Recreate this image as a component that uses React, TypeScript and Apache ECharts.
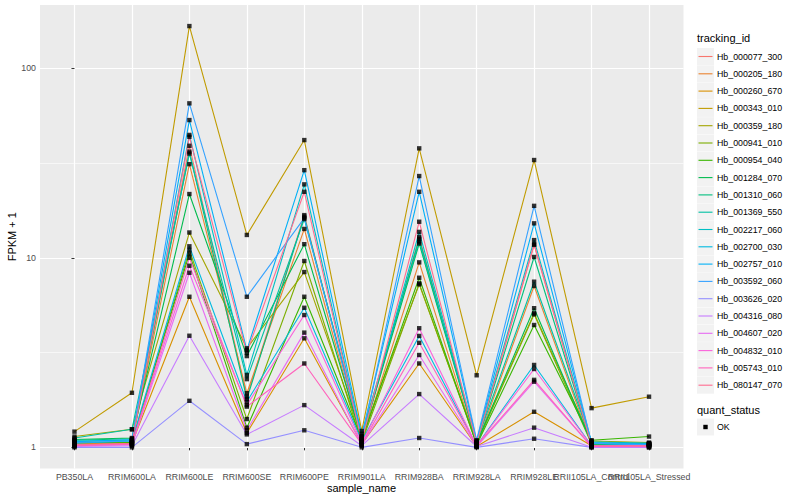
import { useEffect, useRef } from "react";
import * as echarts from "echarts";

const categories = [
  "PB350LA", "RRIM600LA", "RRIM600LE", "RRIM600SE", "RRIM600PE", "RRIM901LA",
  "RRIM928BA", "RRIM928LA", "RRIM928LE", "RRII105LA_Control", "RRII105LA_Stressed",
];

const trackingIds = [
  "Hb_000077_300", "Hb_000205_180", "Hb_000260_670", "Hb_000343_010", "Hb_000359_180",
  "Hb_000941_010", "Hb_000954_040", "Hb_001284_070", "Hb_001310_060", "Hb_001369_550",
  "Hb_002217_060", "Hb_002700_030", "Hb_002757_010", "Hb_003592_060", "Hb_003626_020",
  "Hb_004316_080", "Hb_004607_020", "Hb_004832_010", "Hb_005743_010", "Hb_080147_070",
];

const colors = [
  "#F8766D", "#EA8331", "#D89000", "#C09B00", "#A3A500", "#7CAE00", "#39B600", "#00BB4E",
  "#00BF7D", "#00C1A3", "#00BFC4", "#00BAE0", "#00B0F6", "#35A2FF", "#9590FF", "#C77CFF",
  "#E76BF3", "#FA62DB", "#FF62BC", "#FF6C91",
];

// FPKM + 1 values, one array per tracking id (order of categories)
const hb_000077_300 = [1.04, 1.06, 39.0, 1.85, 16.8, 1.09, 12.9, 1.04, 11.7, 1.03, 1.02];
const hb_000205_180 = [1.05, 1.07, 31.2, 1.93, 14.2, 1.07, 9.46, 1.03, 7.1, 1.03, 1.03];
const hb_000260_670 = [1.04, 1.05, 6.23, 1.19, 3.76, 1.04, 2.77, 1.01, 1.54, 1.02, 1.05];
const hb_000343_010 = [1.21, 1.94, 167, 13.2, 41.8, 1.22, 37.8, 2.4, 32.8, 1.61, 1.85];
const hb_000359_180 = [1.14, 1.245, 13.6, 3.33, 8.41, 1.14, 7.24, 1.06, 5.1, 1.08, 1.06];
const hb_000941_010 = [1.06, 1.05, 11.0, 1.41, 9.62, 1.06, 7.33, 1.04, 5.03, 1.04, 1.04];
const hb_000954_040 = [1.07, 1.06, 10.5, 1.27, 6.23, 1.1, 7.85, 1.03, 4.42, 1.09, 1.14];
const hb_001284_070 = [1.1, 1.12, 21.7, 3.03, 11.8, 1.11, 11.9, 1.05, 5.42, 1.05, 1.04];
const hb_001310_060 = [1.09, 1.11, 36.3, 1.8, 16.5, 1.13, 12.6, 1.06, 10.1, 1.04, 1.03];
const hb_001369_550 = [1.12, 1.245, 35.5, 2.29, 16.0, 1.18, 12.2, 1.07, 7.48, 1.07, 1.05];
const hb_002217_060 = [1.08, 1.09, 44.5, 2.41, 24.4, 1.1, 13.7, 1.07, 12.4, 1.05, 1.05];
const hb_002700_030 = [1.05, 1.08, 11.5, 1.74, 5.45, 1.08, 3.87, 1.02, 2.72, 1.02, 1.04];
const hb_002757_010 = [1.07, 1.1, 53.3, 3.26, 29.0, 1.15, 22.3, 1.08, 15.2, 1.06, 1.04];
const hb_003592_060 = [1.06, 1.08, 65.3, 6.23, 16.2, 1.12, 27.0, 1.09, 18.8, 1.05, 1.03];
const hb_003626_020 = [1.0, 1.0, 1.76, 1.04, 1.23, 1.0, 1.12, 1.0, 1.11, 1.0, 1.0];
const hb_004316_080 = [1.01, 1.02, 3.88, 1.17, 1.67, 1.02, 1.91, 1.01, 1.27, 1.0, 1.0];
const hb_004607_020 = [1.02, 1.03, 8.34, 1.23, 4.03, 1.03, 3.07, 1.01, 2.22, 1.01, 1.01];
const hb_004832_010 = [1.03, 1.04, 9.08, 1.67, 4.99, 1.05, 4.25, 1.02, 2.59, 1.02, 1.02];
const hb_005743_010 = [1.02, 1.04, 10.0, 1.64, 2.77, 1.04, 3.56, 1.02, 2.27, 1.01, 1.01];
const hb_080147_070 = [1.03, 1.05, 43.5, 3.16, 22.3, 1.08, 15.5, 1.05, 11.8, 1.02, 1.02];

const seriesValues = [
  hb_000077_300, hb_000205_180, hb_000260_670, hb_000343_010, hb_000359_180,
  hb_000941_010, hb_000954_040, hb_001284_070, hb_001310_060, hb_001369_550,
  hb_002217_060, hb_002700_030, hb_002757_010, hb_003592_060, hb_003626_020,
  hb_004316_080, hb_004607_020, hb_004832_010, hb_005743_010, hb_080147_070,
];

const yTickValues = [1, 10, 100];
const yMinorValues = [Math.sqrt(10), Math.sqrt(1000)];

const FONT = "Liberation Sans, Arial, Helvetica, sans-serif";

function buildOption() {
  const allLogs = seriesValues.flat().map((v) => Math.log10(v));
  const lo = Math.min(...allLogs);
  const hi = Math.max(...allLogs);
  const pad = (hi - lo) * 0.05;
  const yMin = lo - pad;
  const yMax = hi + pad;
  const xMin = -0.6;
  const xMax = categories.length - 1 + 0.6;
  const catIdx = categories.map((_, i) => i);
  const evenIdx = catIdx.filter((i) => i % 2 === 0);
  const oddIdx = catIdx.filter((i) => i % 2 === 1);

  const lineSeries = seriesValues.map((vals, s) => ({
    type: "line",
    name: trackingIds[s],
    data: vals.map((v, i) => [i, Math.log10(v)]),
    showSymbol: false,
    symbol: "none",
    silent: true,
    z: 2,
    lineStyle: { color: colors[s], width: 1.1 },
    itemStyle: { color: colors[s] },
  }));

  const points: number[][] = [];
  seriesValues.forEach((vals) => vals.forEach((v, i) => points.push([i, Math.log10(v)])));

  const legendTop = 48;
  const legendStep = 17.3;
  const graphic: any[] = [
    {
      type: "text",
      left: 697,
      top: 32,
      style: { text: "tracking_id", font: `11px ${FONT}`, fill: "#000" },
    },
  ];
  trackingIds.forEach((id, i) => {
    const y = legendTop + i * legendStep;
    graphic.push({
      type: "rect",
      shape: { x: 697, y, width: 17, height: 17 },
      style: { fill: "#F2F2F2" },
    });
    graphic.push({
      type: "line",
      shape: { x1: 698.5, y1: y + 8.5, x2: 712.5, y2: y + 8.5 },
      style: { stroke: colors[i], lineWidth: 1.1 },
    });
    graphic.push({
      type: "text",
      x: 717,
      y: y + 8.5,
      style: {
        text: id,
        font: `8.8px ${FONT}`,
        fill: "#000",
        verticalAlign: "middle",
      },
    });
  });
  graphic.push({
    type: "text",
    left: 697,
    top: 404,
    style: { text: "quant_status", font: `11px ${FONT}`, fill: "#000" },
  });
  graphic.push({
    type: "rect",
    shape: { x: 697, y: 418.5, width: 17, height: 17 },
    style: { fill: "#F2F2F2" },
  });
  graphic.push({
    type: "rect",
    shape: { x: 703.3, y: 424.8, width: 4.4, height: 4.4 },
    style: { fill: "#000" },
  });
  graphic.push({
    type: "text",
    x: 717,
    y: 427,
    style: { text: "OK", font: `8.8px ${FONT}`, fill: "#000", verticalAlign: "middle" },
  });
  graphic.push({
    type: "text",
    x: 361.5,
    y: 488,
    style: {
      text: "sample_name",
      font: `11px ${FONT}`,
      fill: "#000",
      align: "center",
      verticalAlign: "middle",
    },
  });
  graphic.push({
    type: "text",
    x: 12,
    y: 236.7,
    rotation: Math.PI / 2,
    style: {
      text: "FPKM + 1",
      font: `11px ${FONT}`,
      fill: "#000",
      align: "center",
      verticalAlign: "middle",
    },
  });

  const xLabelStyle = {
    formatter: (v: number) => categories[Math.round(v)] ?? "",
    color: "#4D4D4D",
    fontSize: 8.8,
    fontFamily: FONT,
    margin: 4,
  };

  return {
    animation: false,
    backgroundColor: "#FFFFFF",
    textStyle: { fontFamily: FONT },
    grid: {
      left: 40,
      right: 116.5,
      top: 5,
      bottom: 31.6,
      show: true,
      backgroundColor: "#EBEBEB",
      borderWidth: 0,
    },
    xAxis: [
      {
        type: "value",
        min: xMin,
        max: xMax,
        position: "bottom",
        axisLine: { show: false },
        axisTick: {
          show: true,
          length: 3,
          lineStyle: { color: "#333333", width: 1 },
          customValues: catIdx,
        },
        axisLabel: { ...xLabelStyle, customValues: evenIdx },
        splitLine: { show: true, lineStyle: { color: "#FFFFFF", width: 1.2 } },
      },
      {
        type: "value",
        min: xMin,
        max: xMax,
        position: "bottom",
        axisLine: { show: false },
        axisTick: { show: false, customValues: oddIdx },
        axisLabel: { ...xLabelStyle, customValues: oddIdx },
        splitLine: { show: false },
      },
    ],
    yAxis: [
      {
        type: "value",
        min: yMin,
        max: yMax,
        axisLine: { show: false },
        axisTick: {
          show: true,
          length: 3,
          lineStyle: { color: "#333333", width: 1 },
          customValues: yTickValues.map((v) => Math.log10(v)),
        },
        axisLabel: {
          customValues: yTickValues.map((v) => Math.log10(v)),
          formatter: (v: number) => String(Math.round(Math.pow(10, v))),
          color: "#4D4D4D",
          fontSize: 8.8,
          fontFamily: FONT,
          margin: 4,
        },
        splitLine: { show: true, lineStyle: { color: "#FFFFFF", width: 1.2 } },
        z: 1,
      },
      {
        type: "value",
        min: yMin,
        max: yMax,
        position: "left",
        axisLine: { show: false },
        axisTick: { show: false, customValues: yMinorValues.map((v) => Math.log10(v)) },
        axisLabel: { show: false, customValues: yMinorValues.map((v) => Math.log10(v)) },
        splitLine: { show: true, lineStyle: { color: "#FFFFFF", width: 0.6 } },
        z: 0,
      },
    ],
    series: [
      ...lineSeries,
      {
        type: "scatter",
        name: "OK",
        data: points,
        symbol: "rect",
        symbolSize: 4.4,
        silent: true,
        z: 3,
        itemStyle: { color: "#000000" },
      },
    ],
    graphic,
  };
}

export default function App() {
  const ref = useRef<HTMLDivElement>(null);
  useEffect(() => {
    if (!ref.current) return;
    const chart = echarts.init(ref.current, null, { renderer: "svg" });
    chart.setOption(buildOption() as any);
    return () => chart.dispose();
  }, []);
  return (
    <div
      ref={ref}
      style={{ position: "fixed", left: 0, top: 0, width: 800, height: 500 }}
    />
  );
}
